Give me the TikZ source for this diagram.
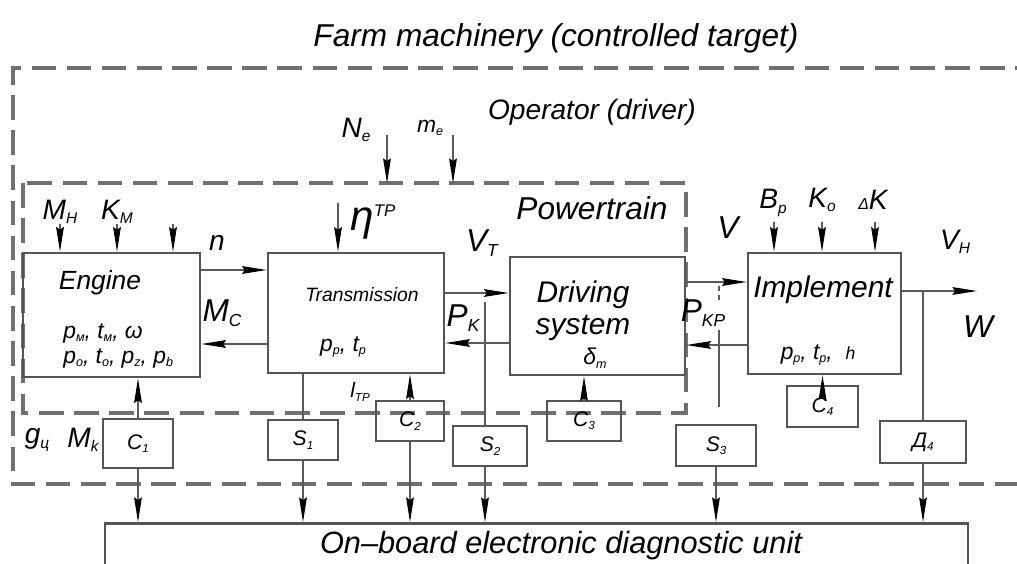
\documentclass[tikz,border=0pt]{standalone}
\usepackage{fontspec}
\setmainfont{Liberation Sans}
\usetikzlibrary{arrows.meta, positioning}

\definecolor{boxgray}{HTML}{555555}
\definecolor{framegray}{HTML}{707070}
\definecolor{linegray}{HTML}{5A5A5A}

\newcommand{\fs}[1]{\fontsize{#1}{#1}\selectfont\itshape}
\newcommand{\lo}[1]{\raisebox{-0.3ex}{\scalebox{0.55}{#1}}}

\begin{document}
\begin{tikzpicture}[x=0.02cm, y=-0.02cm,
    every node/.style={inner sep=0pt},
    block/.style={draw=boxgray, line width=1.6pt},
    sensor/.style={draw=boxgray, line width=1.4pt, minimum height=0.8cm, font=\fs{12}},
    sig/.style={draw=linegray, line width=0.6pt, -{Stealth[length=14pt, width=4.4pt, inset=1.5pt, color=black]}},
    wire/.style={draw=linegray, line width=0.6pt},
    frame/.style={draw=framegray, line width=2.2pt, dash pattern=on 14pt off 6pt},
    lbl/.style={font=\fs{16}}
]
\useasboundingbox (0,0) rectangle (1017,564);

% dashed frames
\draw[frame] (1040,68) -| (13,484) -- (1040,484);
\draw[frame] (23,183) rectangle (686,413);

\node[font=\fs{18}] (farm) at (556,38) {Farm machinery (controlled target)};
\node[font=\fs{16}] (oper) at (592,112) {Operator (driver)};
\node[font=\fs{18}] (ptrain) at (592,208) {Powertrain};

% main blocks
\node[block, minimum width=3.54cm, minimum height=2.48cm] (engine) at (111.5,315) {};
\node[block, minimum width=3.52cm, minimum height=2.4cm] (trans) at (356,313) {};
\node[block, minimum width=3.5cm, minimum height=2.36cm] (drive) at (597.5,316) {};
\node[block, minimum width=3.06cm, minimum height=2.42cm] (impl) at (824.5,313.5) {};

\node[font=\fs{15}] (engtxt) at (100,283) {Engine};
\node[font=\fs{13}, anchor=west] (engp1) at (63,333) {p\lo{м}, t\lo{м}, ω};
\node[font=\fs{13}, anchor=west] (engp2) at (63,358) {p\lo{o}, t\lo{o}, p\lo{z}, p\lo{b}};
\node[font=\fs{11}] (trtxt) at (362,295) {Transmission};
\node[font=\fs{13}] (trp) at (343,347) {p\lo{p}, t\lo{p}};
\node[font=\fs{17}, align=center] (drtxt) at (583,311) {Driving\\[1pt]system};
\node[font=\fs{13}] (delta) at (595,358) {δ\lo{m}};
\node[font=\fs{17}] (imtxt) at (823,290) {Implement};
\node[font=\fs{13}] (imp) at (818,355) {p\lo{p}, t\lo{p}, \ {\fs{10}h}};

% sensors and units
\node[sensor, minimum width=1.4cm, minimum height=0.98cm] (c1) at (138,443.5) {C\lo{1}};
\node[sensor, minimum width=1.4cm] (s1) at (303,440) {S\lo{1}};
\node[sensor, minimum width=1.36cm] (c2) at (410,421) {C\lo{2}};
\node[sensor, minimum width=1.48cm] (s2) at (490,446) {S\lo{2}};
\node[sensor, minimum width=1.48cm] (c3) at (584,421) {C\lo{3}};
\node[sensor, minimum width=1.6cm, minimum height=0.82cm] (s3) at (716,445.5) {S\lo{3}};
\node[sensor, minimum width=1.42cm, minimum height=0.82cm] (c4) at (822.5,406.5) {C\lo{4}};
\node[sensor, minimum width=1.72cm, minimum height=0.84cm] (d4) at (923,442) {Д\lo{4}};

\node[block, minimum width=17.26cm, minimum height=1.6cm, anchor=north] (diag) at (536.5,522) {};
\node[font=\fs{17.5}] (diagtxt) at (561,546) {On–board electronic diagnostic unit};

% signal rows
\coordinate (rowN) at (0,270);
\coordinate (rowM) at (0,344);
\coordinate (rowV) at (0,293);
\coordinate (rowP) at (0,343);
\coordinate (rowVi) at (0,282);
\coordinate (rowPi) at (0,345);
\coordinate (wEnd) at (977,291);

\draw[sig] (engine.east |- rowN) -- (trans.west |- rowN);
\draw[sig] (trans.west |- rowM) -- (engine.east |- rowM);
\draw[sig] (trans.east |- rowV) -- (drive.west |- rowV);
\draw[sig] (drive.west |- rowP) -- (trans.east |- rowP);
\draw[sig] (drive.east |- rowVi) -- (impl.west |- rowVi);
\draw[sig] (impl.west |- rowPi) -- (drive.east |- rowPi);
\draw[sig] (impl.east |- wEnd) -- (wEnd);

% inputs from above
\foreach \x in {60,117,173}
    \draw[sig] (\x,224) -- (\x,224 |- engine.north);
\foreach \x in {774,822,875}
    \draw[sig] (\x,222) -- (\x,222 |- impl.north);
\coordinate (eta) at (338,203);
\draw[sig] (eta) -- (eta |- trans.north);
\coordinate (ne) at (387,135);
\coordinate (me) at (453,135);
\draw[sig] (ne) -- (387,183);
\draw[sig] (me) -- (453,183);

% measuring lines
\coordinate (pk) at (485,302);
\draw[wire] (pk) -- (pk |- s2.north);
\draw[sig] (pk |- s2.south) -- (pk |- diag.north);
\draw[wire] (s1.north |- trans.south) -- (s1.north);
\draw[sig] (s1.south) -- (s1.south |- diag.north);
\draw[sig] (c1.north) -- (c1.north |- engine.south);
\draw[sig] (c1.south) -- (c1.south |- diag.north);
\draw[sig] (c2.north) -- (c2.north |- trans.south);
\draw[sig] (c2.south) -- (c2.south |- diag.north);
\draw[sig] (c3.north) -- (c3.north |- drive.south);
\draw[sig] (c4.north) -- (c4.north |- impl.south);
\coordinate (pkpA) at (719,286);
\coordinate (pkpB) at (719,330);
\coordinate (pkpC) at (719,407);
\draw[wire, densely dashed] (pkpA) -- ++(0,14);
\draw[wire] (pkpB) -- (pkpC);
\draw[sig] (s3.south) -- (s3.south |- diag.north);
\draw[wire] (d4.north |- wEnd) -- (d4.north);
\draw[sig] (d4.south) -- (d4.south |- diag.north);

% labels
\node[lbl] (lmh) at (60,212) {M\lo{H}};
\node[lbl] (lkm) at (117,212) {K\lo{M}};
\node[lbl] (ln) at (217,243) {n};
\node[font=\fs{18}] (lmc) at (222,313) {M\lo{C}};
\node[font=\fs{24}, anchor=west] (leta) at (350,222) {η\raisebox{0.6ex}{\scalebox{0.4}{TP}}};
\node[font=\fs{18}] (lvt) at (482,243) {V\lo{T}};
\node[font=\fs{18}] (lpk) at (463,318) {P\lo{K}};
\node[font=\fs{18}] (lv) at (728,228) {V};
\node[font=\fs{18}] (lpkp) at (703,313) {P\lo{KP}};
\node[lbl] (lbp) at (773,203) {B\lo{p}};
\node[lbl] (lko) at (822,200) {K\lo{o}};
\node[lbl] (ldk) at (873,200) {{\fs{9}Δ}K};
\node[lbl] (lvh) at (955,242) {V\lo{H}};
\node[font=\fs{18}] (lw) at (978,327) {W};
\node[font=\fs{12}] (ltp) at (360,392) {l\lo{TP}};
\node[lbl] (lgc) at (37,440) {g\lo{ц}};
\node[lbl] (lmk) at (83,440) {M\lo{k}};
\node[lbl] (lne) at (356,130) {N\lo{e}};
\node[font=\fs{13}] (lme) at (430,128) {m\lo{e}};

\end{tikzpicture}
\end{document}
